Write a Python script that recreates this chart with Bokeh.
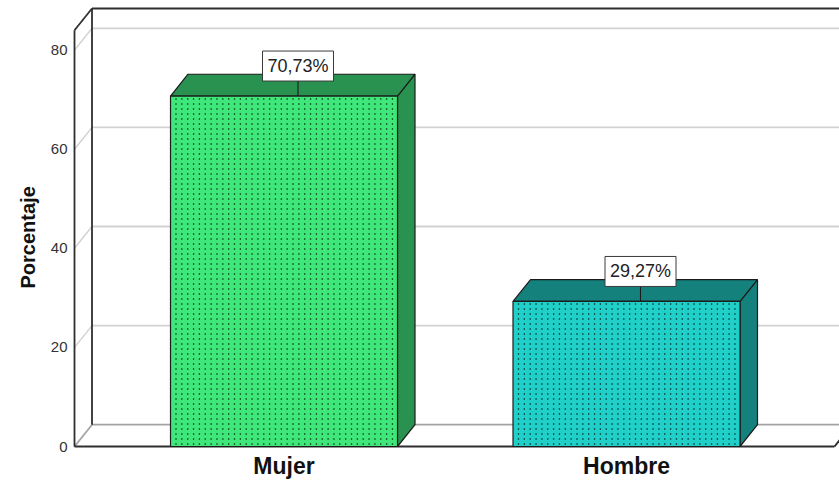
import numpy as np
from bokeh.plotting import figure
from bokeh.models import Range1d, FixedTicker, Title
from bokeh.embed import file_html
from bokeh.resources import INLINE

# ---- data -------------------------------------------------------------
categories = ["Mujer", "Hombre"]
percentages = [70.73, 29.27]
pct_labels = ["70,73%", "29,27%"]
y_ticks = [0, 20, 40, 60, 80]
y_axis_max = 84

# ---- style ------------------------------------------------------------
FONT = "Liberation Sans"
face_colors = ["#3fe77b", "#21cfc9"]
shade_colors = ["#299251", "#15817d"]
dot_colors = ["#16682f", "#0a5c58"]
EDGE = "#1b1b1b"

# pixel scale of the data space and 3-D depth offsets
PX_X = 342.5          # px per category step
PX_Y = 4.955          # px per percentage point
DX = 17.5 / PX_X
DY = 21.8 / PX_Y
BAR_W = 227 / PX_X
DOT_STEP = 5.85 / PX_X

x_start, x_end = -0.6234, 1.6219
y_start, y_end = -2 / PX_Y, 446 / PX_Y

p = figure(frame_width=769, frame_height=448,
           min_border_left=70, min_border_right=0,
           min_border_top=0, min_border_bottom=33,
           x_range=Range1d(x_start, x_end), y_range=Range1d(y_start, y_end),
           output_backend="svg", toolbar_location=None)
p.xgrid.visible = False
p.ygrid.visible = False
p.outline_line_color = None
p.background_fill_color = "white"
p.border_fill_color = "white"

# ---- box walls --------------------------------------------------------
xl = x_start + 4 / PX_X          # front-left edge of the box
xb = xl + DX                     # back-left edge
x_far = x_end + 0.2              # back wall runs off the right side
x_floor_end = x_end - 5 / PX_X   # front floor edge end

grid_vals = [t for t in y_ticks if t > 0]
# back-wall gridlines and their left-wall diagonals
p.segment(x0=[xb] * len(grid_vals), y0=[t + DY for t in grid_vals],
          x1=[x_far] * len(grid_vals), y1=[t + DY for t in grid_vals],
          line_color="#d2d2d2", line_width=1.8)
p.segment(x0=[xl] * len(grid_vals), y0=grid_vals,
          x1=[xb] * len(grid_vals), y1=[t + DY for t in grid_vals],
          line_color="#d2d2d2", line_width=1.5)
# floor: back edge, left and right diagonals
p.segment(x0=[xb, xl, x_floor_end], y0=[DY, 0, 0],
          x1=[x_far, xb, x_floor_end + DX], y1=[DY, DY, DY],
          line_color="#a3a3a3", line_width=1.8)
# dark frame lines of the box
p.segment(x0=[xl, xb, xl, xb, xl, x_floor_end],
          y0=[0, DY, y_axis_max, y_axis_max + DY, 0, 0],
          x1=[xl, xb, xb, x_far, x_floor_end, x_floor_end + DX],
          y1=[y_axis_max, y_axis_max + DY, y_axis_max + DY, y_axis_max + DY, 0, DY],
          line_color="#2f2f2f", line_width=1.8)

# ---- 3-D bars ---------------------------------------------------------
for i, v in enumerate(percentages):
    left, right = i - BAR_W / 2, i + BAR_W / 2
    # side face
    p.patch(x=[right, right + DX, right + DX, right],
            y=[0, DY, v + DY, v],
            fill_color=shade_colors[i], line_color=EDGE, line_width=1.2)
    # top face
    p.patch(x=[left, right, right + DX, left + DX],
            y=[v, v, v + DY, v + DY],
            fill_color=shade_colors[i], line_color=EDGE, line_width=1.2)
    # front face
    p.quad(left=[left], right=[right], bottom=[0], top=[v],
           fill_color=face_colors[i], line_color=None)
    # dotted texture
    xs = np.arange(left + 5.5 / PX_X, right - 2 / PX_X, DOT_STEP)
    p.segment(x0=xs, y0=[0.3] * len(xs), x1=xs, y1=[v - 0.3] * len(xs),
              line_color=dot_colors[i], line_width=1.3, line_dash="2 3")
    p.quad(left=[left], right=[right], bottom=[0], top=[v],
           fill_color=None, line_color=EDGE, line_width=1.2)

# ---- value labels -----------------------------------------------------
LAB_DX = 14 / PX_X
GAP = 15 / PX_Y
BOX_H = 30
for i, v in enumerate(percentages):
    cx = i + LAB_DX
    p.segment(x0=[cx], y0=[v], x1=[cx], y1=[v + GAP],
              line_color=EDGE, line_width=1.1)
    cy = v + GAP + (BOX_H / 2) / PX_Y
    p.rect(x=[cx], y=[cy], width=[71], height=[BOX_H],
           width_units="screen", height_units="screen",
           fill_color="white", line_color="#3a3a3a", line_width=1)
    p.text(x=[cx], y=[cy], text=[pct_labels[i]],
           text_align="center", text_baseline="middle",
           text_font={"value": FONT}, text_font_size="18px",
           text_color="#222222")

# ---- axes -------------------------------------------------------------
p.yaxis.ticker = FixedTicker(ticks=y_ticks)
p.yaxis.axis_line_color = None
p.yaxis.major_tick_line_color = None
p.yaxis.minor_tick_line_color = None
p.yaxis.major_label_standoff = -3
p.yaxis.major_label_text_font = FONT
p.yaxis.major_label_text_font_size = "15px"
p.yaxis.major_label_text_color = "#333333"

p.xaxis.ticker = FixedTicker(ticks=list(range(len(categories))))
p.xaxis.major_label_overrides = {i: c for i, c in enumerate(categories)}
p.xaxis.axis_line_color = None
p.xaxis.major_tick_line_color = None
p.xaxis.minor_tick_line_color = None
p.xaxis.major_label_standoff = -2
p.xaxis.major_label_text_font = FONT
p.xaxis.major_label_text_font_size = "23px"
p.xaxis.major_label_text_font_style = "bold"
p.xaxis.major_label_text_color = "#111111"

# y-axis title, centred on the 0..84 span of the axis
p.add_layout(Title(text="Porcentaje", align="left", offset=160, standoff=17,
                   text_font=FONT, text_font_size="20px", text_font_style="bold",
                   text_color="#111111"), "left")

open("out.html", "w").write(file_html(p, INLINE))
